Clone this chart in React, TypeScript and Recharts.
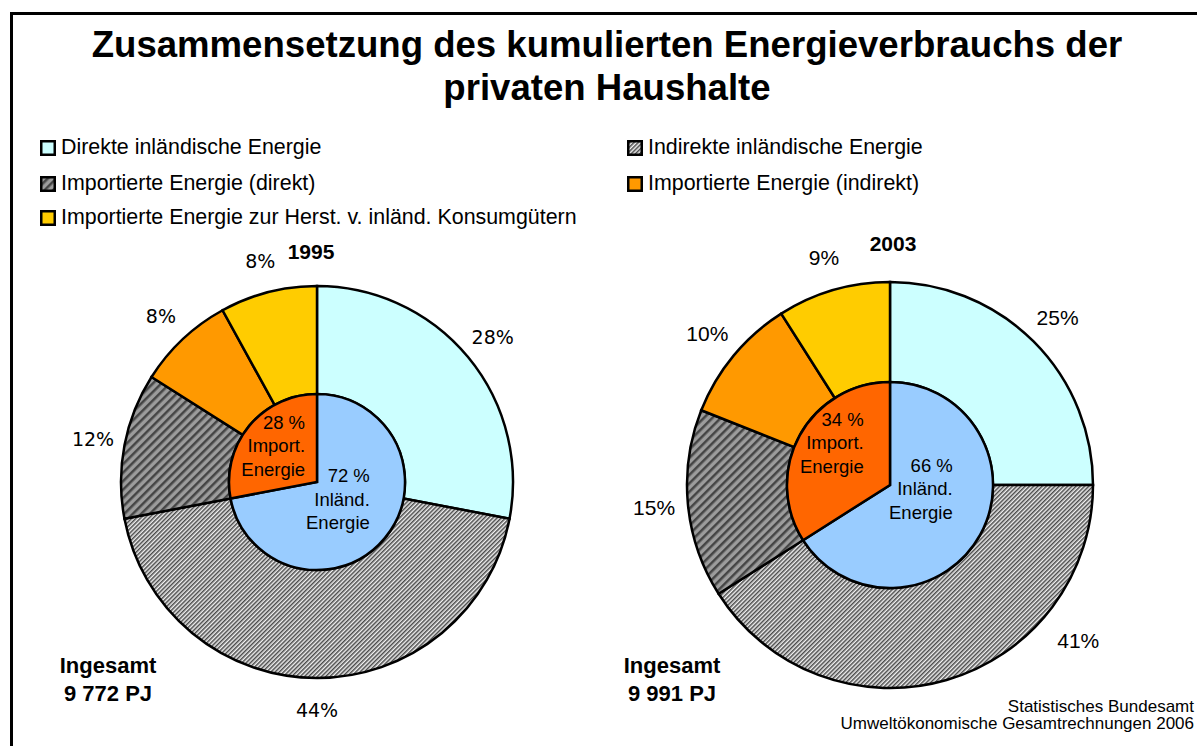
import { PieChart, Pie } from 'recharts';

// categories
const outerNames = [
  'Direkte inländische Energie',
  'Indirekte inländische Energie',
  'Importierte Energie (direkt)',
  'Importierte Energie (indirekt)',
  'Importierte Energie zur Herst. v. inländ. Konsumgütern',
];
const innerNames = ['Inländ. Energie', 'Import. Energie'];

// values in %
const outer1995 = [28, 44, 12, 8, 8];
const outer2003 = [25, 41, 15, 10, 9];
const inner1995 = [72, 28];
const inner2003 = [66, 34];

const years = ['1995', '2003'];
const totals = ['9 772 PJ', '9 991 PJ'];

const outerFills = ['#CCFFFF', 'url(#hatchFine)', 'url(#hatchCoarse)', '#FF9900', '#FFCC00'];
const innerFills = ['#99CCFF', '#FF6600'];

const RAD = Math.PI / 180;
const polar = (cx: number, cy: number, r: number, fromTop: number) => ({
  x: cx + r * Math.sin(fromTop * RAD),
  y: cy - r * Math.cos(fromTop * RAD),
});

const ARIAL = '"Liberation Sans", Arial, sans-serif';

// placement of the two doughnuts
const pies = [
  {
    cx: 317, cy: 482, inner: 88, outer: 196,
    outerLabel: { r: 228, font: '"DejaVu Sans", sans-serif', size: 19, override: {} as Record<number, { r: number; angle: number }> },
    innerLabel: { 0: { r: 27 }, 1: { r: 57 } } as Record<number, { r: number; angle?: number }>,
  },
  {
    cx: 890, cy: 485, inner: 103, outer: 203,
    outerLabel: { r: 237, font: ARIAL, size: 21, override: { 1: { r: 244, angle: 129.5 } } as Record<number, { r: number; angle: number }> },
    innerLabel: { 0: { r: 31, angle: 97 }, 1: { r: 72, angle: 306 } } as Record<number, { r: number; angle?: number }>,
  },
];

const makeOuterLabel = (cfg: any) => (props: any) => {
  const { cx, cy, midAngle, index, value } = props;
  const o = cfg.override[index];
  const a = o ? o.angle : 90 - midAngle;
  const r = o ? o.r : cfg.r;
  const p = polar(cx, cy, r, a);
  return (
    <text x={p.x} y={p.y + cfg.size * 0.36} textAnchor="middle" fontFamily={cfg.font} fontSize={cfg.size} fill="#000">
      {value}%
    </text>
  );
};

const makeInnerLabel = (cfg: any) => (props: any) => {
  const { cx, cy, midAngle, index, value } = props;
  const o = cfg[index];
  const a = o.angle !== undefined ? o.angle : 90 - midAngle;
  const p = polar(cx, cy, o.r, a);
  const fs = 18.5;
  const lh = 23.5;
  const half = 32;
  const lines = [`${value} %`, ...innerNames[index].split(' ')];
  return (
    <text textAnchor="end" fontFamily={ARIAL} fontSize={fs} fill="#000">
      {lines.map((l, i) => (
        <tspan key={i} x={p.x + half} y={p.y + (i - 1) * lh + fs * 0.36}>{l}</tspan>
      ))}
    </text>
  );
};

function Label({ x, y, size, bold, children, anchor = 'middle', font = ARIAL }: any) {
  const tx = anchor === 'middle' ? '-50%' : anchor === 'end' ? '-100%' : '0';
  return (
    <div
      style={{
        position: 'absolute', left: x, top: y - size * 0.6, transform: `translateX(${tx})`,
        fontFamily: font, fontSize: size, lineHeight: 1.2, fontWeight: bold ? 'bold' : 'normal',
        whiteSpace: 'nowrap', color: '#000',
      }}
    >
      {children}
    </div>
  );
}

function LegendBox({ fill }: { fill: string }) {
  return (
    <svg width={16} height={16} style={{ position: 'absolute', left: 0, top: 0 }}>
      <rect x={1.25} y={1.25} width={13.5} height={13.5} fill={fill} stroke="#000" strokeWidth={2.5} />
    </svg>
  );
}

const legendOrder = [
  { i: 0, x: 40, y: 148 }, { i: 1, x: 627, y: 148 },
  { i: 2, x: 40, y: 184 }, { i: 3, x: 627, y: 184 },
  { i: 4, x: 40, y: 218 },
];

export default function App() {
  const outerData = [outer1995, outer2003].map((vals) =>
    vals.map((v, i) => ({ name: outerNames[i], value: v, fill: outerFills[i] })));
  const innerData = [inner1995, inner2003].map((vals) =>
    vals.map((v, i) => ({ name: innerNames[i], value: v, fill: innerFills[i] })));

  return (
    <div style={{ position: 'absolute', left: 0, top: 0, width: 1197, height: 746, overflow: 'hidden', background: '#fff' }}>
      <svg width={0} height={0} style={{ position: 'absolute' }}>
        <defs>
          <pattern id="hatchFine" patternUnits="userSpaceOnUse" width={3} height={3} patternTransform="rotate(45)">
            <rect width={3} height={3} fill="#f0f0f0" />
            <rect width={1.5} height={3} fill="#4a4a4a" />
          </pattern>
          <pattern id="hatchCoarse" patternUnits="userSpaceOnUse" width={6} height={6} patternTransform="rotate(45)">
            <rect width={6} height={6} fill="#9c9c9c" />
            <rect width={2.5} height={6} fill="#454545" />
          </pattern>
        </defs>
      </svg>

      <div style={{ position: 'absolute', left: 10, top: 12, width: 1400, height: 1000, border: '3px solid #000' }} />

      <Label x={607} y={45} size={36.6} bold>Zusammensetzung des kumulierten Energieverbrauchs der</Label>
      <Label x={607} y={88} size={36.6} bold>privaten Haushalte</Label>

      {legendOrder.map(({ i, x, y }) => (
        <div key={i} style={{ position: 'absolute', left: x, top: y - 8, height: 16 }}>
          <LegendBox fill={outerFills[i]} />
          <Label x={21} y={8} size={21.4} anchor="start">{outerNames[i]}</Label>
        </div>
      ))}

      <div style={{ position: 'absolute', left: 0, top: 0 }}>
        <PieChart width={1197} height={746} margin={{ top: 0, right: 0, bottom: 0, left: 0 }}>
          {pies.map((p, k) => (
            <Pie
              key={`o${k}`}
              data={outerData[k]}
              dataKey="value"
              cx={p.cx}
              cy={p.cy}
              innerRadius={p.inner}
              outerRadius={p.outer}
              startAngle={90}
              endAngle={-270}
              stroke="#000"
              strokeWidth={2.5}
              label={makeOuterLabel(p.outerLabel)}
              labelLine={false}
              isAnimationActive={false}
            />
          ))}
          {pies.map((p, k) => (
            <Pie
              key={`i${k}`}
              data={innerData[k]}
              dataKey="value"
              cx={p.cx}
              cy={p.cy}
              innerRadius={0}
              outerRadius={p.inner}
              startAngle={90}
              endAngle={-270}
              stroke="#000"
              strokeWidth={2.5}
              label={makeInnerLabel(p.innerLabel)}
              labelLine={false}
              isAnimationActive={false}
            />
          ))}
        </PieChart>
      </div>

      <Label x={311} y={252} size={21} bold>{years[0]}</Label>
      <Label x={893} y={244} size={21} bold>{years[1]}</Label>

      <Label x={108} y={666} size={22} bold>Ingesamt</Label>
      <Label x={108} y={694} size={22} bold>{totals[0]}</Label>
      <Label x={672} y={666} size={22} bold>Ingesamt</Label>
      <Label x={672} y={694} size={22} bold>{totals[1]}</Label>

      <Label x={1194} y={707} size={17} anchor="end">Statistisches Bundesamt</Label>
      <Label x={1194} y={724} size={17} anchor="end">Umweltökonomische Gesamtrechnungen 2006</Label>
    </div>
  );
}
